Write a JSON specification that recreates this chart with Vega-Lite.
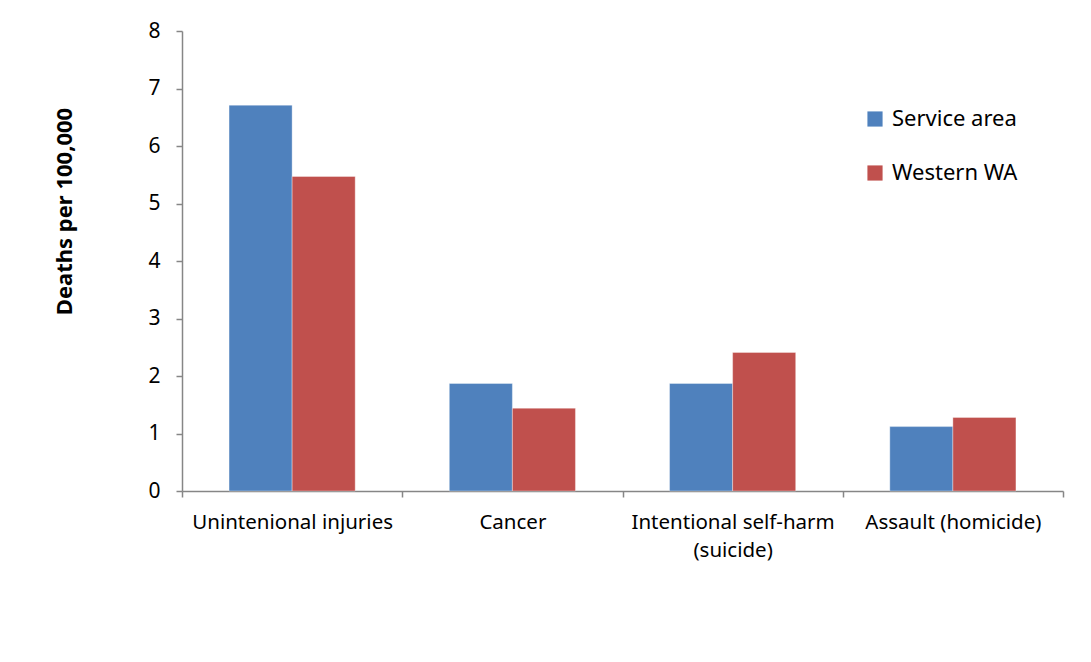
{
  "$schema": "https://vega.github.io/schema/vega-lite/v6.json",
  "width": 881,
  "height": 460,
  "autosize": {"type": "none"},
  "padding": {"left": 182, "top": 31, "right": 28, "bottom": 171},
  "background": "white",
  "config": {
    "view": {"stroke": null},
    "font": "Noto Sans"
  },
  "data": {
    "values": [
      {"cause": "Unintenional injuries", "area": "Service area", "rate": 6.71},
      {"cause": "Unintenional injuries", "area": "Western WA", "rate": 5.47},
      {"cause": "Cancer", "area": "Service area", "rate": 1.87},
      {"cause": "Cancer", "area": "Western WA", "rate": 1.44},
      {"cause": "Intentional self-harm (suicide)", "area": "Service area", "rate": 1.87},
      {"cause": "Intentional self-harm (suicide)", "area": "Western WA", "rate": 2.41},
      {"cause": "Assault (homicide)", "area": "Service area", "rate": 1.12},
      {"cause": "Assault (homicide)", "area": "Western WA", "rate": 1.28}
    ]
  },
  "mark": {"type": "bar", "stroke": "white", "strokeWidth": 0.6, "strokeOpacity": 0.6},
  "encoding": {
    "x": {
      "field": "cause",
      "type": "nominal",
      "sort": null,
      "scale": {"paddingInner": 0, "paddingOuter": 0},
      "axis": {
        "title": null,
        "labelAngle": 0,
        "labelFontSize": 20.5,
        "labelColor": "black",
        "labelPadding": 15,
        "labelLineHeight": 28,
        "labelLimit": 400,
        "labelExpr": "datum.value == 'Intentional self-harm (suicide)' ? ['Intentional self-harm', '(suicide)'] : datum.value",
        "domainColor": "#868686",
        "domainWidth": 1.5,
        "tickColor": "#868686",
        "tickWidth": 1.5,
        "tickSize": 6,
        "tickBand": "extent"
      }
    },
    "xOffset": {"field": "area", "type": "nominal", "sort": null, "scale": {"paddingInner": 0, "paddingOuter": 0.746}},
    "y": {
      "field": "rate",
      "type": "quantitative",
      "scale": {"domain": [0, 8]},
      "axis": {
        "title": "Deaths per 100,000",
        "titleFontSize": 22,
        "titleFontWeight": "bold",
        "titleColor": "black",
        "titleAnchor": "middle",
        "titleX": -118,
        "titleY": 180,
        "titleAngle": -90,
        "titleBaseline": "middle",
        "values": [0, 1, 2, 3, 4, 5, 6, 7, 8],
        "grid": false,
        "labelFontSize": 21,
        "labelColor": "black",
        "labelPadding": 16,
        "domainColor": "#868686",
        "domainWidth": 1.5,
        "tickColor": "#868686",
        "tickWidth": 1.5,
        "tickSize": 6
      }
    },
    "color": {
      "field": "area",
      "type": "nominal",
      "sort": null,
      "scale": {"domain": ["Service area", "Western WA"], "range": ["#4F81BD", "#C0504D"]},
      "legend": {
        "title": null,
        "orient": "none",
        "legendX": 682,
        "legendY": 77,
        "symbolType": "square",
        "symbolSize": 230,
        "symbolStrokeWidth": 0,
        "labelFontSize": 22,
        "labelColor": "black",
        "labelOffset": 6,
        "rowPadding": 32
      }
    }
  }
}
